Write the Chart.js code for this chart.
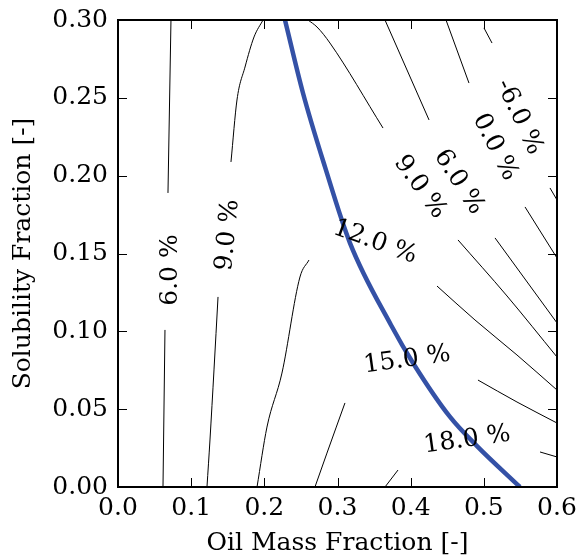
<!DOCTYPE html>
<html>
<head>
<meta charset="utf-8">
<script src="https://cdn.jsdelivr.net/npm/chart.js@4.4.0/dist/chart.umd.min.js"></script>
<style>
  html, body { margin: 0; padding: 0; background: #fff; }
</style>
</head>
<body>
<canvas id="contourChart" width="580" height="558"></canvas>
<script>
// solubility limit curve (blue)
var limitX = [0.2282, 0.2528, 0.2829, 0.3171, 0.3731, 0.4032, 0.4538, 0.4907, 0.5494];
var limitY = [0.300, 0.2531, 0.2056, 0.1567, 0.1041, 0.0797, 0.0450, 0.0263, 0.0];

// contour segments, [x, y] pairs, split where the inline labels sit
var level6LeftLow = [[0.0615, 0], [0.0642, 0.1009]];
var level6LeftHigh = [[0.0683, 0.1889], [0.0724, 0.3]];
var level9LeftLow = [[0.1216, 0], [0.1257, 0.0302], [0.1312, 0.0752], [0.1367, 0.1221]];
var level9LeftHigh = [[0.1544, 0.2088], [0.1626, 0.2486], [0.1736, 0.2698], [0.1859, 0.2891], [0.1982, 0.3]];
var level12Left = [[0.1900, 0], [0.2036, 0.0385], [0.2241, 0.0732], [0.2487, 0.1349], [0.2610, 0.1458]];
var level12Right = [[0.4360, 0.1291], [0.4879, 0.1073], [0.5453, 0.0848], [0.6, 0.0623]];
var level15Left = [[0.2692, 0], [0.2856, 0.0218], [0.3102, 0.0540]];
var level15Right = [[0.4920, 0.0687], [0.5453, 0.0546], [0.6, 0.0411]];
var level18Left = [[0.3649, 0], [0.3827, 0.0109]];
var level18Right = [[0.5768, 0.0225], [0.6, 0.0193]];
var level9RightHigh = [[0.2597, 0.3], [0.2720, 0.2955], [0.2897, 0.2852], [0.3622, 0.2306]];
var level9RightLow = [[0.4647, 0.1587], [0.5317, 0.1227], [0.6, 0.0835]];
var level6RightHigh = [[0.3649, 0.3], [0.4251, 0.2358]];
var level6RightLow = [[0.5153, 0.1600], [0.6, 0.1054]];
var level0High = [[0.4483, 0.3], [0.4797, 0.2595]];
var level0Low = [[0.5563, 0.1799], [0.6, 0.1471]];
var levelMinus6High = [[0.5002, 0.2949], [0.5112, 0.2852]];
var levelMinus6Low = [[0.5904, 0.1921], [0.6, 0.1844]];

var segments = [level6LeftLow, level6LeftHigh, level9LeftLow, level9LeftHigh, level12Left, level12Right,
  level15Left, level15Right, level18Left, level18Right, level9RightHigh, level9RightLow,
  level6RightHigh, level6RightLow, level0High, level0Low, levelMinus6High, levelMinus6Low];

// inline contour labels
var labelText = ['6.0 %', '9.0 %', '12.0 %', '15.0 %', '18.0 %', '9.0 %', '6.0 %', '0.0 %', '-6.0 %'];
var labelX = [0.0711, 0.1503, 0.3513, 0.3950, 0.4770, 0.4128, 0.4661, 0.5153, 0.5481];
var labelY = [0.1394, 0.1619, 0.1574, 0.0816, 0.0302, 0.1927, 0.1959, 0.2184, 0.2377];
var labelAngle = [-90, -84.5, 20, -8, -8, 54, 57, 63, 65];

var xTicks = [0.0, 0.1, 0.2, 0.3, 0.4, 0.5, 0.6];
var yTicks = [0.00, 0.05, 0.10, 0.15, 0.20, 0.25, 0.30];

var serif = "'DejaVu Serif', 'Liberation Serif', serif";
var fontSize = 25;

var datasets = segments.map(function(seg) {
  return {
    data: seg.map(function(p) { return { x: p[0], y: p[1] }; }),
    showLine: true,
    borderColor: '#000000',
    borderWidth: 1,
    pointRadius: 0,
    cubicInterpolationMode: 'monotone'
  };
});
datasets.push({
  data: limitX.map(function(v, i) { return { x: v, y: limitY[i] }; }),
  showLine: true,
  borderColor: '#3451a6',
  borderWidth: 4.5,
  pointRadius: 0,
  cubicInterpolationMode: 'monotone'
});

// inward ticks on all four sides, frame, and contour labels
var framePlugin = {
  id: 'frame',
  afterDatasetsDraw: function(chart) {
    var ctx = chart.ctx;
    var a = chart.chartArea;
    var xs = chart.scales.x, ys = chart.scales.y;
    ctx.save();
    ctx.fillStyle = '#000';
    ctx.font = fontSize + 'px ' + serif;
    ctx.textAlign = 'center';
    ctx.textBaseline = 'middle';
    for (var i = 0; i < labelText.length; i++) {
      ctx.save();
      ctx.translate(xs.getPixelForValue(labelX[i]), ys.getPixelForValue(labelY[i]));
      ctx.rotate(labelAngle[i] * Math.PI / 180);
      ctx.fillText(labelText[i], 0, 0);
      ctx.restore();
    }
    ctx.strokeStyle = '#000';
    ctx.lineWidth = 1;
    var tl = 9;
    xTicks.forEach(function(v) {
      var px = Math.round(xs.getPixelForValue(v)) + 0.5;
      ctx.beginPath();
      ctx.moveTo(px, a.bottom); ctx.lineTo(px, a.bottom - tl);
      ctx.moveTo(px, a.top); ctx.lineTo(px, a.top + tl);
      ctx.stroke();
    });
    yTicks.forEach(function(v) {
      var py = Math.round(ys.getPixelForValue(v)) + 0.5;
      ctx.beginPath();
      ctx.moveTo(a.left, py); ctx.lineTo(a.left + tl, py);
      ctx.moveTo(a.right, py); ctx.lineTo(a.right - tl, py);
      ctx.stroke();
    });
    ctx.lineWidth = 2;
    ctx.strokeRect(a.left, a.top, a.right - a.left, a.bottom - a.top);
    ctx.restore();
  }
};

var ctx = document.getElementById('contourChart').getContext('2d');
window.contourChart = new Chart(ctx, {
  type: 'scatter',
  data: { datasets: datasets },
  options: {
    responsive: false,
    animation: false,
    devicePixelRatio: 1,
    layout: { padding: { left: 4, right: 23, top: 20, bottom: 0 } },
    plugins: { legend: { display: false }, tooltip: { enabled: false } },
    scales: {
      x: {
        type: 'linear',
        min: 0, max: 0.6,
        afterBuildTicks: function(scale) { scale.ticks = xTicks.map(function(v) { return { value: v }; }); },
        afterFit: function(scale) {
          scale.height = 71;
          scale.paddingLeft = 0;
          scale.paddingRight = 0;
        },
        grid: { display: false, drawTicks: false },
        border: { display: false },
        ticks: {
          padding: 6,
          color: '#000',
          font: { family: serif, size: fontSize },
          callback: function(v) { return Number(v).toFixed(1); }
        },
        title: {
          display: true,
          text: 'Oil Mass Fraction [-]',
          color: '#000',
          font: { family: serif, size: fontSize },
          padding: { top: 0, bottom: 0 }
        }
      },
      y: {
        type: 'linear',
        min: 0, max: 0.3,
        afterBuildTicks: function(scale) { scale.ticks = yTicks.map(function(v) { return { value: v }; }); },
        afterFit: function(scale) {
          scale.width = 114;
          scale.paddingTop = 0;
          scale.paddingBottom = 0;
        },
        grid: { display: false, drawTicks: false },
        border: { display: false },
        ticks: {
          padding: 10,
          color: '#000',
          font: { family: serif, size: fontSize },
          callback: function(v) { return Number(v).toFixed(2); }
        },
        title: {
          display: true,
          text: 'Solubility Fraction [-]',
          color: '#000',
          font: { family: serif, size: fontSize },
          padding: { top: 4, bottom: 0 }
        }
      }
    }
  },
  plugins: [framePlugin]
});
</script>
</body>
</html>
